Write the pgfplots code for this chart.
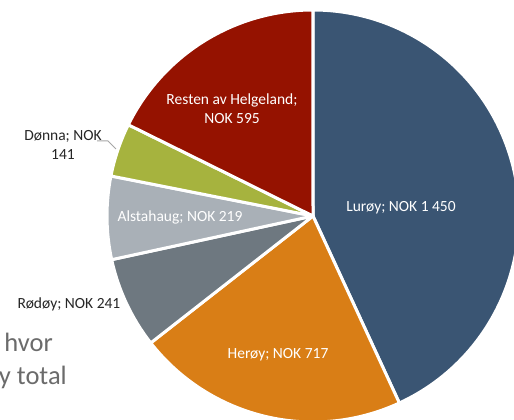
\documentclass[border=0pt]{standalone}
\usepackage{fontspec}
\setmainfont{Carlito}
\usepackage{pgfplots}
\pgfplotsset{compat=1.18}
\usepackage{pgfplotstable}

\definecolor{cLur}{HTML}{3A5573}
\definecolor{cHer}{HTML}{D97E16}
\definecolor{cRod}{HTML}{6E7880}
\definecolor{cAls}{HTML}{A9B0B7}
\definecolor{cDon}{HTML}{A6B33E}
\definecolor{cRes}{HTML}{951200}
\definecolor{bgtext}{HTML}{6B6B6B}
\definecolor{lbl}{HTML}{262626}

% values (NOK)
\def\vLur{1450}
\def\vHer{717}
\def\vRod{241}
\def\vAls{219}
\def\vDon{141}
\def\vRes{595}
\pgfmathsetmacro\tot{\vLur+\vHer+\vRod+\vAls+\vDon+\vRes}
\pgfmathsetmacro\aA{90}
\pgfmathsetmacro\aB{\aA-360*(\vLur/\tot)}
\pgfmathsetmacro\aC{\aB-360*(\vHer/\tot)}
\pgfmathsetmacro\aD{\aC-360*(\vRod/\tot)}
\pgfmathsetmacro\aE{\aD-360*(\vAls/\tot)}
\pgfmathsetmacro\aF{\aE-360*(\vDon/\tot)}
\pgfmathsetmacro\aG{\aF-360*(\vRes/\tot)}

\def\R{206pt}

\begin{document}
\begin{tikzpicture}
\useasboundingbox (0,0) rectangle (514pt,420pt);
\begin{axis}[
  at={(0,0)}, anchor=south west,
  x=1pt, y=1pt,
  xmin=0, xmax=514, ymin=0, ymax=420,
  hide axis, clip=true,
]
% background slide text
\node[anchor=base east, text=bgtext, font=\fontsize{26.5}{32}\selectfont, inner sep=0pt] at (axis cs:53,68) {hvor};
\node[anchor=base east, text=bgtext, font=\fontsize{26.5}{32}\selectfont, inner sep=0pt] at (axis cs:67,35) {y total};

\fill[cLur, draw=white, line width=3pt, line join=round] (axis cs:313,204) -- ++(\aB:\R) arc[start angle=\aB, end angle=\aA, radius=\R] -- cycle;
\fill[cHer, draw=white, line width=3pt, line join=round] (axis cs:313,204) -- ++(\aC:\R) arc[start angle=\aC, end angle=\aB, radius=\R] -- cycle;
\fill[cRod, draw=white, line width=3pt, line join=round] (axis cs:313,204) -- ++(\aD:\R) arc[start angle=\aD, end angle=\aC, radius=\R] -- cycle;
\fill[cAls, draw=white, line width=3pt, line join=round] (axis cs:313,204) -- ++(\aE:\R) arc[start angle=\aE, end angle=\aD, radius=\R] -- cycle;
\fill[cDon, draw=white, line width=3pt, line join=round] (axis cs:313,204) -- ++(\aF:\R) arc[start angle=\aF, end angle=\aE, radius=\R] -- cycle;
\fill[cRes, draw=white, line width=3pt, line join=round] (axis cs:313,204) -- ++(\aG:\R) arc[start angle=\aG, end angle=\aF, radius=\R] -- cycle;

% leader line for Dønna
\draw[color=black!35, line width=1pt] (axis cs:97,279) -- (axis cs:108,279) -- (axis cs:116,271);

\tikzset{lab/.style={font=\fontsize{15.5}{19}\selectfont, align=center, inner sep=0pt}}
\node[lab, text=white] at (axis cs:401,212) {Lurøy; NOK 1 450};
\node[lab, text=white] at (axis cs:278,65) {Herøy; NOK 717};
\node[lab, text=white] at (axis cs:180,203) {Alstahaug; NOK 219};
\node[lab, text=white] at (axis cs:232,311) {Resten av Helgeland;\\NOK 595};
\node[lab, text=lbl] at (axis cs:69,116) {Rødøy; NOK 241};
\node[lab, text=lbl] at (axis cs:63,275) {Dønna; NOK\\141};
\end{axis}
\end{tikzpicture}
\end{document}
